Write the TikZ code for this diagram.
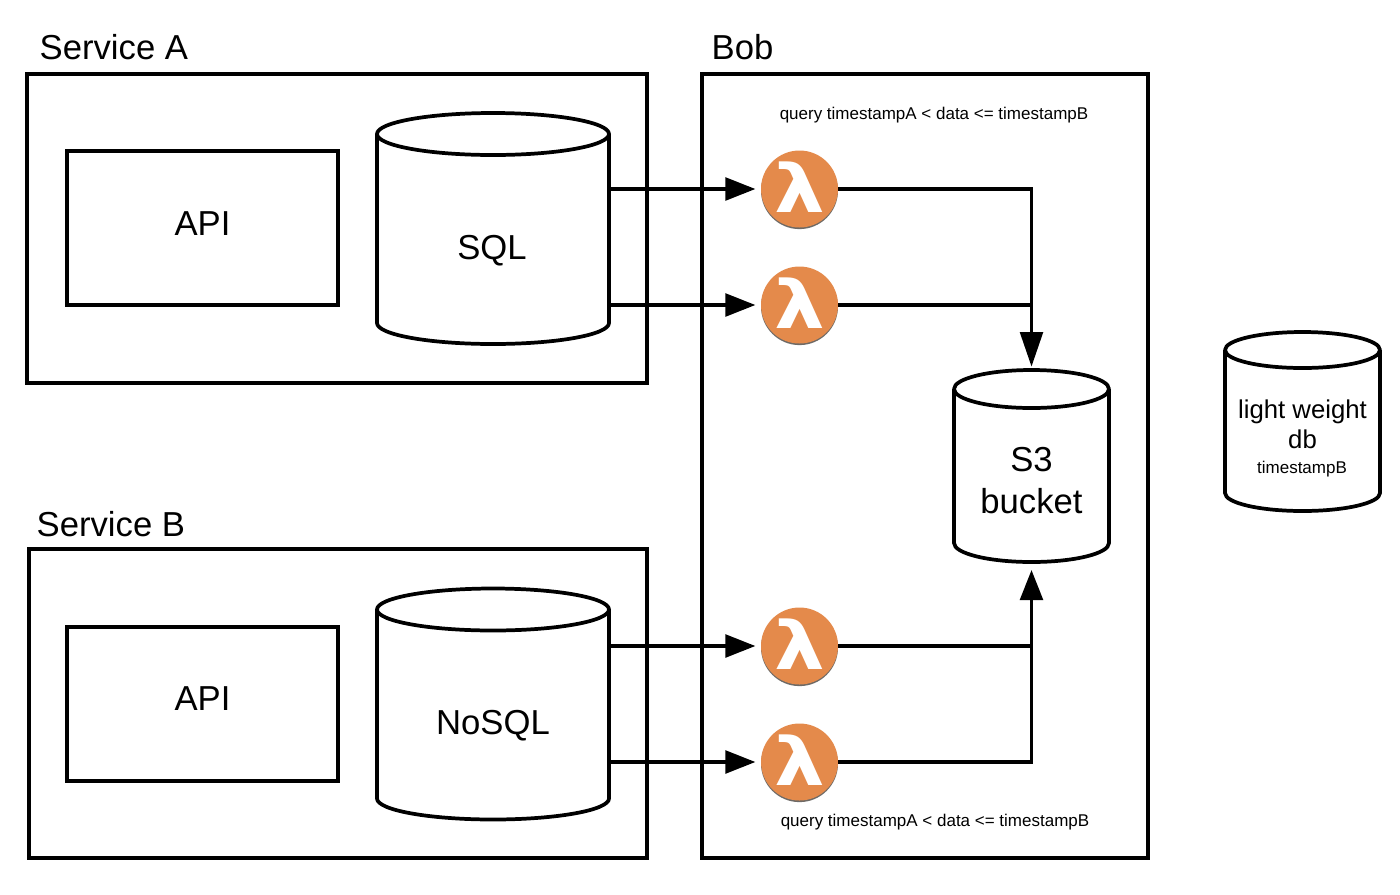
\documentclass[tikz,border=0pt]{standalone}
\usepackage{fontspec}
\setmainfont{Liberation Sans}
\newfontfamily\lambdafont{DejaVu Sans}
\usepackage{xcolor}
\usetikzlibrary{positioning,arrows.meta,calc,shadows}
\definecolor{lambdaOrange}{HTML}{E48A4B}
\definecolor{lambdaShadow}{HTML}{6E6A66}
\tikzset{
  box/.style={draw, line width=3pt, inner sep=0pt},
  dbarea/.style={inner sep=0pt, outer sep=0pt},
  dbline/.style={line width=2.8pt, line join=round},
  lambdanode/.style={circle, fill=lambdaOrange, text=white, minimum size=57.75pt, inner sep=0pt,
    font=\lambdafont\fontsize{50}{50}\selectfont\bfseries,
    general shadow={fill=lambdaShadow, shadow yshift=-1.2pt}},
  link/.style={line width=2.6pt},
  flow/.style={link, -{Triangle[length=22.5pt,width=17pt]}},
  big/.style={font=\fontsize{26}{31.5}\selectfont, align=center},
  small/.style={font=\fontsize{12.75}{15}\selectfont},
}
% node name, x radius, cap height
\newcommand{\cylbody}[3]{
  \draw[dbline] ($(#1.north)+(0,#3)$) ellipse [x radius=#2, y radius=#3];
  \draw[dbline] ($(#1.north west)+(0,#3)$) -- ($(#1.south west)+(0,-#3)$)
    arc [start angle=180, end angle=0, x radius=#2, y radius=#3]
    -- ($(#1.north east)+(0,#3)$);
}
\newcommand{\lambdaglyph}{\raisebox{2.5pt}{\scalebox{1.2}[1]{λ}}}
\begin{document}
\begin{tikzpicture}[x=0.75pt, y=-0.75pt]
  \useasboundingbox (0,0) rectangle (1400,894);

  % outer boxes
  \node[box, minimum width=465pt, minimum height=231.75pt] (serviceA) at (337,228.5) {};
  \node[box, minimum width=463.5pt, minimum height=231.75pt] (serviceB) at (338,703.5) {};
  \node[box, minimum width=334.5pt, minimum height=588pt] (bob) at (925,466) {};
  \node[big, anchor=west] (titleA) at (35,47) {Service A};
  \node[big, anchor=west] (titleB) at (32,524) {Service B};
  \node[big, anchor=west] (titleBob) at (707,47) {Bob};

  % service A
  \node[box, minimum width=203.25pt, minimum height=115.5pt] (apiA) at (202.5,228) {};
  \node[big] (apiAtext) at (202.5,224) {API};
  \node[dbarea, minimum width=174pt, minimum height=173.25pt] (sql) at (493,228.5) {};
  \cylbody{sql}{116}{21}
  \node[big] (sqltext) at (492,251) {SQL};

  % service B
  \node[box, minimum width=203.25pt, minimum height=115.5pt] (apiB) at (202.5,704) {};
  \node[big] (apiBtext) at (202.5,699) {API};
  \node[dbarea, minimum width=174pt, minimum height=173.25pt] (nosql) at (493,704) {};
  \cylbody{nosql}{116}{21}
  \node[big] (nosqltext) at (493,726) {NoSQL};

  % bob
  \node[small] (queryTop) at (934,115) {query timestampA < data <= timestampB};
  \node[small] (queryBottom) at (935,822) {query timestampA < data <= timestampB};
  \node[lambdanode] (lamA) at (799.5,189) {\lambdaglyph};
  \node[lambdanode] (lamB) at (799.5,305) {\lambdaglyph};
  \node[lambdanode] (lamC) at (799.5,646) {\lambdaglyph};
  \node[lambdanode] (lamD) at (799.5,762) {\lambdaglyph};
  \node[dbarea, minimum width=116.25pt, minimum height=144pt] (s3) at (1031.5,466) {};
  \cylbody{s3}{77.5}{19}
  \node[big] (s3text) at (1031.5,481) {S3\\bucket};

  % db
  \node[dbarea, minimum width=116.25pt, minimum height=134.25pt] (db) at (1302.5,421.5) {};
  \cylbody{db}{77.5}{18}
  \node[font=\fontsize{19.3}{22.5}\selectfont, align=center] (dbtext) at (1302.5,424) {light weight\\db};
  \node[small] (dbstamp) at (1302,469) {timestampB};

  % connectors
  \draw[flow, shorten >=4pt] (sql.east |- lamA) -- (lamA);
  \draw[flow, shorten >=4pt] (sql.east |- lamB) -- (lamB);
  \draw[flow, shorten >=4pt] (nosql.east |- lamC) -- (lamC);
  \draw[flow, shorten >=4pt] (nosql.east |- lamD) -- (lamD);
  \draw[link, -{Triangle[length=26pt,width=17pt]}, shorten >=2.5pt] (lamA) -| (s3.north);
  \draw[link] (lamB) -- (lamB -| s3.north);
  \draw[flow, shorten >=6pt] (lamD) -| (s3.south);
  \draw[link] (lamC) -- (lamC -| s3.south);
\end{tikzpicture}
\end{document}
